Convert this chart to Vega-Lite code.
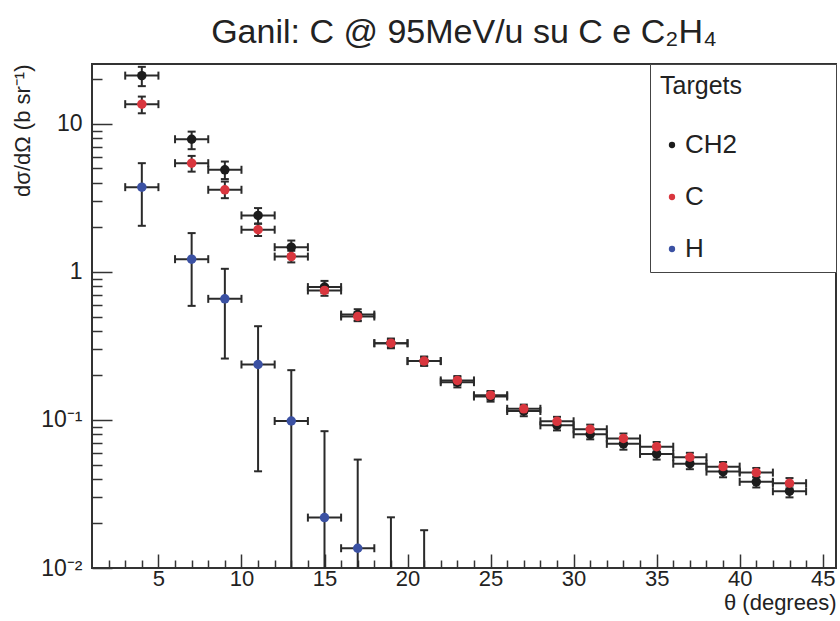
{
  "$schema": "https://vega.github.io/schema/vega-lite/v6.json",
  "width": 744,
  "height": 504,
  "autosize": {"type": "none"},
  "padding": {"left": 92, "top": 64, "right": 4, "bottom": 53},
  "background": "white",
  "title": {
    "text": "Ganil: C @ 95MeV/u su C e C₂H₄",
    "fontSize": 34,
    "font": "Liberation Sans",
    "fontWeight": "normal",
    "color": "#222222",
    "offset": 14,
    "anchor": "middle"
  },
  "config": {
    "view": {"stroke": "#333333", "strokeWidth": 2},
    "font": "Liberation Sans"
  },
  "data": {
    "values": [
      {"target": "CH2", "theta": 4, "xlo": 3, "xhi": 5, "y": 21.2, "ylo": 18.0, "yhi": 24.3},
      {"target": "CH2", "theta": 7, "xlo": 6, "xhi": 8, "y": 7.88, "ylo": 6.75, "yhi": 8.87},
      {"target": "CH2", "theta": 9, "xlo": 8, "xhi": 10, "y": 4.9, "ylo": 4.24, "yhi": 5.57},
      {"target": "CH2", "theta": 11, "xlo": 10, "xhi": 12, "y": 2.41, "ylo": 2.12, "yhi": 2.7},
      {"target": "CH2", "theta": 13, "xlo": 12, "xhi": 14, "y": 1.47, "ylo": 1.31, "yhi": 1.63},
      {"target": "CH2", "theta": 15, "xlo": 14, "xhi": 16, "y": 0.79, "ylo": 0.72, "yhi": 0.87},
      {"target": "CH2", "theta": 17, "xlo": 16, "xhi": 18, "y": 0.515, "ylo": 0.47, "yhi": 0.56},
      {"target": "CH2", "theta": 19, "xlo": 18, "xhi": 20, "y": 0.33, "ylo": 0.305, "yhi": 0.355},
      {"target": "CH2", "theta": 21, "xlo": 20, "xhi": 22, "y": 0.25, "ylo": 0.232, "yhi": 0.268},
      {"target": "CH2", "theta": 23, "xlo": 22, "xhi": 24, "y": 0.18, "ylo": 0.166, "yhi": 0.194},
      {"target": "CH2", "theta": 25, "xlo": 24, "xhi": 26, "y": 0.144, "ylo": 0.133, "yhi": 0.155},
      {"target": "CH2", "theta": 27, "xlo": 26, "xhi": 28, "y": 0.115, "ylo": 0.106, "yhi": 0.124},
      {"target": "CH2", "theta": 29, "xlo": 28, "xhi": 30, "y": 0.092, "ylo": 0.085, "yhi": 0.099},
      {"target": "CH2", "theta": 31, "xlo": 30, "xhi": 32, "y": 0.08, "ylo": 0.074, "yhi": 0.086},
      {"target": "CH2", "theta": 33, "xlo": 32, "xhi": 34, "y": 0.069, "ylo": 0.063, "yhi": 0.075},
      {"target": "CH2", "theta": 35, "xlo": 34, "xhi": 36, "y": 0.059, "ylo": 0.054, "yhi": 0.064},
      {"target": "CH2", "theta": 37, "xlo": 36, "xhi": 38, "y": 0.0507, "ylo": 0.0465, "yhi": 0.055},
      {"target": "CH2", "theta": 39, "xlo": 38, "xhi": 40, "y": 0.0448, "ylo": 0.041, "yhi": 0.0486},
      {"target": "CH2", "theta": 41, "xlo": 40, "xhi": 42, "y": 0.0382, "ylo": 0.035, "yhi": 0.0414},
      {"target": "CH2", "theta": 43, "xlo": 42, "xhi": 44, "y": 0.033, "ylo": 0.03, "yhi": 0.036},
      {"target": "C", "theta": 4, "xlo": 3, "xhi": 5, "y": 13.6, "ylo": 11.8, "yhi": 15.3},
      {"target": "C", "theta": 7, "xlo": 6, "xhi": 8, "y": 5.43, "ylo": 4.76, "yhi": 6.08},
      {"target": "C", "theta": 9, "xlo": 8, "xhi": 10, "y": 3.59, "ylo": 3.15, "yhi": 4.08},
      {"target": "C", "theta": 11, "xlo": 10, "xhi": 12, "y": 1.93, "ylo": 1.75, "yhi": 2.12},
      {"target": "C", "theta": 13, "xlo": 12, "xhi": 14, "y": 1.27, "ylo": 1.16, "yhi": 1.39},
      {"target": "C", "theta": 15, "xlo": 14, "xhi": 16, "y": 0.75, "ylo": 0.69, "yhi": 0.81},
      {"target": "C", "theta": 17, "xlo": 16, "xhi": 18, "y": 0.5, "ylo": 0.465, "yhi": 0.535},
      {"target": "C", "theta": 19, "xlo": 18, "xhi": 20, "y": 0.33, "ylo": 0.31, "yhi": 0.35},
      {"target": "C", "theta": 21, "xlo": 20, "xhi": 22, "y": 0.25, "ylo": 0.234, "yhi": 0.267},
      {"target": "C", "theta": 23, "xlo": 22, "xhi": 24, "y": 0.185, "ylo": 0.172, "yhi": 0.198},
      {"target": "C", "theta": 25, "xlo": 24, "xhi": 26, "y": 0.147, "ylo": 0.137, "yhi": 0.157},
      {"target": "C", "theta": 27, "xlo": 26, "xhi": 28, "y": 0.119, "ylo": 0.111, "yhi": 0.127},
      {"target": "C", "theta": 29, "xlo": 28, "xhi": 30, "y": 0.098, "ylo": 0.091, "yhi": 0.105},
      {"target": "C", "theta": 31, "xlo": 30, "xhi": 32, "y": 0.0865, "ylo": 0.08, "yhi": 0.093},
      {"target": "C", "theta": 33, "xlo": 32, "xhi": 34, "y": 0.075, "ylo": 0.069, "yhi": 0.081},
      {"target": "C", "theta": 35, "xlo": 34, "xhi": 36, "y": 0.066, "ylo": 0.061, "yhi": 0.071},
      {"target": "C", "theta": 37, "xlo": 36, "xhi": 38, "y": 0.056, "ylo": 0.052, "yhi": 0.06},
      {"target": "C", "theta": 39, "xlo": 38, "xhi": 40, "y": 0.0484, "ylo": 0.045, "yhi": 0.052},
      {"target": "C", "theta": 41, "xlo": 40, "xhi": 42, "y": 0.0441, "ylo": 0.041, "yhi": 0.0474},
      {"target": "C", "theta": 43, "xlo": 42, "xhi": 44, "y": 0.0374, "ylo": 0.0345, "yhi": 0.0405},
      {"target": "H", "theta": 4, "xlo": 3, "xhi": 5, "y": 3.74, "ylo": 2.05, "yhi": 5.43},
      {"target": "H", "theta": 7, "xlo": 6, "xhi": 8, "y": 1.22, "ylo": 0.59, "yhi": 1.83},
      {"target": "H", "theta": 9, "xlo": 8, "xhi": 10, "y": 0.658, "ylo": 0.26, "yhi": 1.05},
      {"target": "H", "theta": 11, "xlo": 10, "xhi": 12, "y": 0.237, "ylo": 0.045, "yhi": 0.43},
      {"target": "H", "theta": 13, "xlo": 12, "xhi": 14, "y": 0.0984, "ylo": 0.001, "yhi": 0.217},
      {"target": "H", "theta": 15, "xlo": 14, "xhi": 16, "y": 0.0219, "ylo": 0.001, "yhi": 0.084},
      {"target": "H", "theta": 17, "xlo": 16, "xhi": 18, "y": 0.0136, "ylo": 0.001, "yhi": 0.054},
      {"target": "H", "theta": 19, "xlo": null, "xhi": null, "y": null, "ylo": 0.001, "yhi": 0.022},
      {"target": "H", "theta": 21, "xlo": null, "xhi": null, "y": null, "ylo": 0.001, "yhi": 0.018}
    ]
  },
  "layer": [
    {
      "layer": [
        {
          "mark": {"type": "rule", "color": "#2a2a2a", "strokeWidth": 2, "clip": true},
          "encoding": {
            "x": {
              "field": "xlo", "type": "quantitative", "title": "θ (degrees)",
              "scale": {"domain": [1, 45.8], "nice": false, "zero": false},
              "axis": {
                "domain": false,
                "values": [5, 10, 15, 20, 25, 30, 35, 40, 45],
                "labelOverlap": false,
                "labelBound": false,
                "labelFlush": false,
                "labelFontSize": 22,
                "labelColor": "#222222",
                "labelPadding": 14,
                "tickColor": "#333333",
                "tickWidth": 1.5,
                "tickSize": -14,
                "grid": false,
                "titleAnchor": "end",
                "titleAlign": "right",
                "titleFontSize": 22,
                "titleFontWeight": "normal",
                "titleColor": "#222222",
                "titlePadding": 3
              }
            },
            "x2": {"field": "xhi"},
            "y": {
              "field": "y", "type": "quantitative", "title": "dσ/dΩ (b sr⁻¹)",
              "scale": {"type": "log", "domain": [0.01, 25.4], "nice": false},
              "axis": {
                "domain": false,
                "values": [0.01, 0.1, 1, 10],
                "labelExpr": "datum.value > 5 ? '10' : datum.value > 0.5 ? '1' : datum.value > 0.05 ? '10⁻¹' : '10⁻²'",
                "labelOverlap": false,
                "labelBound": false,
                "labelFlush": false,
                "labelFontSize": 23,
                "labelColor": "#222222",
                "labelPadding": 30,
                "tickColor": "#333333",
                "tickWidth": 1.5,
                "tickSize": -20,
                "grid": false,
                "titleAnchor": "end",
                "titleFontSize": 22,
                "titleFontWeight": "normal",
                "titleColor": "#222222",
                "titlePadding": 6
              }
            }
          }
        },
        {
          "mark": {"type": "rule", "color": "#2a2a2a", "strokeWidth": 2, "clip": true},
          "encoding": {
            "x": {"field": "theta", "type": "quantitative", "title": "θ (degrees)"},
            "y": {"field": "ylo", "type": "quantitative", "title": "dσ/dΩ (b sr⁻¹)"},
            "y2": {"field": "yhi"}
          }
        },
        {
          "mark": {"type": "tick", "orient": "vertical", "size": 8, "thickness": 2, "color": "#2a2a2a", "opacity": 1, "clip": true},
          "encoding": {
            "x": {"field": "xlo", "type": "quantitative", "title": "θ (degrees)"},
            "y": {"field": "y", "type": "quantitative", "title": "dσ/dΩ (b sr⁻¹)"}
          }
        },
        {
          "mark": {"type": "tick", "orient": "vertical", "size": 8, "thickness": 2, "color": "#2a2a2a", "opacity": 1, "clip": true},
          "encoding": {
            "x": {"field": "xhi", "type": "quantitative", "title": "θ (degrees)"},
            "y": {"field": "y", "type": "quantitative", "title": "dσ/dΩ (b sr⁻¹)"}
          }
        },
        {
          "mark": {"type": "tick", "orient": "horizontal", "size": 8, "thickness": 2, "color": "#2a2a2a", "opacity": 1, "clip": true},
          "encoding": {
            "x": {"field": "theta", "type": "quantitative", "title": "θ (degrees)"},
            "y": {"field": "yhi", "type": "quantitative", "title": "dσ/dΩ (b sr⁻¹)"}
          }
        },
        {
          "mark": {"type": "tick", "orient": "horizontal", "size": 8, "thickness": 2, "color": "#2a2a2a", "opacity": 1, "clip": true},
          "encoding": {
            "x": {"field": "theta", "type": "quantitative", "title": "θ (degrees)"},
            "y": {"field": "ylo", "type": "quantitative", "title": "dσ/dΩ (b sr⁻¹)"}
          }
        },
        {
          "mark": {"type": "point", "filled": true, "size": 90, "opacity": 1, "clip": true},
          "encoding": {
            "x": {"field": "theta", "type": "quantitative", "title": "θ (degrees)"},
            "y": {"field": "y", "type": "quantitative", "title": "dσ/dΩ (b sr⁻¹)"},
            "color": {
              "field": "target", "type": "nominal",
              "scale": {"domain": ["CH2", "C", "H"], "range": ["#1c1c1c", "#d9363e", "#3b51a3"]},
              "legend": {
                "title": "Targets\u00a0\u00a0\u00a0\u00a0\u00a0\u00a0\u00a0\u00a0\u00a0\u00a0\u00a0\u00a0\u200b",
                "orient": "top-right",
                "offset": 0,
                "padding": 10,
                "strokeColor": "#444444",
                "fillColor": "white",
                "titleFontSize": 25,
                "titleFontWeight": "normal",
                "titleColor": "#222222",
                "titlePadding": 33,
                "titleLimit": 400,
                "labelFontSize": 26,
                "labelColor": "#222222",
                "symbolSize": 40,
                "symbolType": "circle",
                "symbolOffset": -1,
                "symbolStrokeWidth": 0,
                "labelOffset": 0,
                "rowPadding": 26
              }
            }
          }
        }
      ]
    },
    {
      "mark": {"type": "point", "opacity": 0, "size": 1},
      "encoding": {
        "x": {
          "field": "theta", "type": "quantitative",
          "scale": {"domain": [1, 45.8], "nice": false, "zero": false},
          "axis": {
            "orient": "bottom",
            "domain": false,
            "values": [2,3,4,6,7,8,9,11,12,13,14,16,17,18,19,21,22,23,24,26,27,28,29,31,32,33,34,36,37,38,39,41,42,43,44],
            "labels": false,
            "title": null,
            "tickColor": "#333333",
            "tickWidth": 1.5,
            "tickSize": -8,
            "grid": false
          }
        },
        "y": {
          "field": "y", "type": "quantitative",
          "scale": {"type": "log", "domain": [0.01, 25.4], "nice": false},
          "axis": {
            "orient": "left",
            "domain": false,
            "values": [0.02,0.03,0.04,0.05,0.06,0.07,0.08,0.09,0.2,0.3,0.4,0.5,0.6,0.7,0.8,0.9,2,3,4,5,6,7,8,9,20],
            "labels": false,
            "title": null,
            "tickColor": "#333333",
            "tickWidth": 1.5,
            "tickSize": -10,
            "grid": false
          }
        }
      }
    }
  ],
  "resolve": {"scale": {"x": "independent", "y": "independent"}}
}
